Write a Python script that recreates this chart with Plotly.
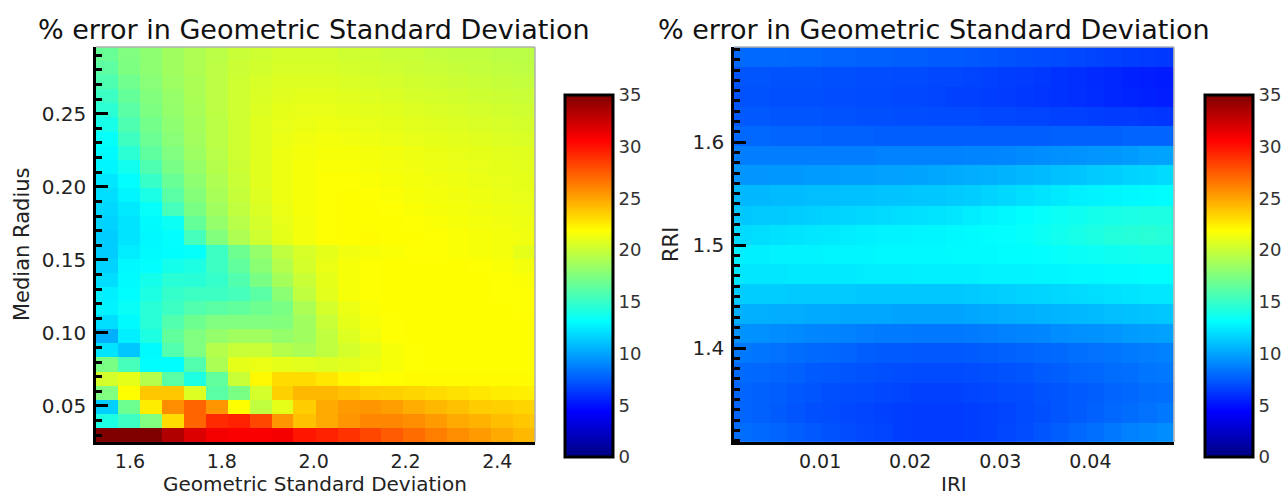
import plotly.graph_objects as go

# ---------------- data ----------------
TITLE = "% error in Geometric Standard Deviation"

# Left panel: x = Geometric Standard Deviation (cell centres), y = Median Radius (cell centres)
gsd = [1.550, 1.598, 1.646, 1.693, 1.741, 1.789, 1.837, 1.885, 1.932, 1.980,
       2.028, 2.076, 2.124, 2.171, 2.219, 2.267, 2.315, 2.363, 2.410, 2.458]
median_radius = [0.0301, 0.0398, 0.0494, 0.0591, 0.0687, 0.0784, 0.0881, 0.0977,
                 0.1074, 0.1170, 0.1267, 0.1364, 0.1460, 0.1557, 0.1653, 0.1750,
                 0.1847, 0.1943, 0.2040, 0.2136, 0.2233, 0.2330, 0.2426, 0.2523,
                 0.2619, 0.2716, 0.2813, 0.2909]

# rows listed from TOP (largest radius) to BOTTOM
err_gsd_top_down = [
    [16.7, 17.5, 18.0, 18.6, 19.1, 19.5, 20.0, 20.2, 20.4, 20.4, 20.4, 20.2, 20.2, 20.0, 20.0, 19.8, 19.7, 19.7, 19.5, 19.5],
    [16.3, 17.4, 18.0, 18.6, 19.1, 19.6, 20.1, 20.3, 20.5, 20.5, 20.5, 20.4, 20.3, 20.2, 20.1, 20.0, 19.9, 19.8, 19.7, 19.6],
    [15.8, 17.0, 17.8, 18.5, 19.0, 19.6, 20.2, 20.5, 20.7, 20.7, 20.7, 20.6, 20.5, 20.4, 20.3, 20.2, 20.1, 20.0, 19.9, 19.8],
    [15.2, 16.6, 17.6, 18.3, 19.0, 19.6, 20.2, 20.6, 20.8, 20.9, 20.9, 20.8, 20.7, 20.6, 20.5, 20.4, 20.3, 20.2, 20.1, 20.0],
    [14.6, 16.2, 17.4, 18.2, 18.9, 19.6, 20.2, 20.7, 21.0, 21.1, 21.1, 21.0, 20.9, 20.8, 20.7, 20.6, 20.5, 20.4, 20.3, 20.2],
    [13.9, 15.8, 17.1, 18.0, 18.8, 19.5, 20.2, 20.8, 21.1, 21.2, 21.3, 21.2, 21.1, 21.0, 20.9, 20.8, 20.7, 20.6, 20.5, 20.4],
    [13.3, 15.3, 16.8, 17.8, 18.7, 19.5, 20.2, 20.8, 21.2, 21.4, 21.5, 21.4, 21.3, 21.2, 21.1, 21.0, 20.9, 20.8, 20.7, 20.6],
    [13.0, 14.6, 16.4, 17.5, 18.5, 19.4, 20.2, 20.8, 21.3, 21.5, 21.6, 21.6, 21.5, 21.4, 21.3, 21.2, 21.1, 21.0, 20.9, 20.8],
    [12.8, 13.7, 15.8, 17.2, 18.3, 19.3, 20.1, 20.8, 21.3, 21.6, 21.7, 21.7, 21.6, 21.5, 21.4, 21.3, 21.2, 21.1, 21.0, 20.9],
    [12.3, 13.2, 15.0, 16.7, 18.0, 19.1, 20.0, 20.8, 21.3, 21.6, 21.8, 21.8, 21.7, 21.6, 21.5, 21.4, 21.3, 21.2, 21.1, 21.0],
    [12.0, 12.8, 14.0, 16.2, 17.7, 18.9, 19.9, 20.7, 21.3, 21.6, 21.8, 21.9, 21.8, 21.7, 21.6, 21.5, 21.4, 21.3, 21.2, 21.1],
    [11.8, 12.4, 13.3, 15.5, 17.3, 18.6, 19.7, 20.6, 21.2, 21.6, 21.8, 21.9, 21.9, 21.8, 21.7, 21.6, 21.5, 21.4, 21.3, 21.2],
    [11.6, 12.2, 13.0, 13.5, 16.6, 18.2, 19.4, 20.4, 21.1, 21.5, 21.8, 21.9, 21.9, 21.9, 21.8, 21.7, 21.6, 21.5, 21.4, 21.3],
    [11.4, 12.2, 12.9, 13.2, 15.5, 17.6, 19.1, 20.2, 21.0, 21.5, 21.8, 21.9, 22.0, 21.9, 21.9, 21.8, 21.7, 21.6, 21.5, 21.4],
    [11.4, 12.5, 13.0, 13.1, 13.3, 15.2, 16.9, 18.2, 19.7, 20.5, 21.0, 21.4, 21.6, 21.7, 21.8, 21.8, 21.7, 21.6, 21.5, 21.0],
    [11.6, 12.9, 13.2, 13.8, 14.1, 15.2, 16.5, 17.9, 19.3, 20.4, 21.2, 21.6, 21.8, 21.9, 21.9, 21.9, 21.9, 21.8, 21.7, 21.5],
    [12.0, 13.0, 13.8, 14.5, 14.5, 14.9, 15.9, 17.3, 18.8, 20.0, 21.0, 21.6, 21.8, 21.9, 21.9, 21.9, 21.9, 21.9, 21.8, 21.7],
    [12.6, 13.1, 14.1, 14.9, 15.2, 15.2, 15.5, 16.2, 17.9, 19.7, 20.9, 21.6, 21.8, 21.9, 21.9, 21.9, 21.9, 21.9, 21.8, 21.8],
    [12.7, 13.4, 14.5, 15.2, 15.9, 16.2, 16.5, 16.9, 17.3, 19.0, 20.4, 21.2, 21.7, 21.9, 21.9, 21.9, 21.9, 21.9, 21.9, 21.8],
    [12.0, 13.0, 14.5, 15.9, 16.9, 17.5, 17.5, 17.5, 17.6, 18.6, 20.0, 21.0, 21.6, 21.8, 21.9, 21.9, 21.9, 21.9, 21.9, 21.9],
    [10.4, 12.6, 14.1, 16.5, 17.5, 18.2, 18.6, 18.6, 18.2, 18.6, 19.7, 20.7, 21.4, 21.8, 21.9, 21.9, 21.9, 21.9, 21.9, 21.9],
    [12.2, 11.2, 13.0, 15.9, 17.5, 19.3, 20.0, 20.0, 19.3, 19.0, 19.7, 20.4, 21.0, 21.6, 21.8, 21.9, 21.9, 21.9, 21.9, 21.9],
    [17.3, 15.5, 13.1, 13.1, 15.9, 19.0, 21.0, 21.2, 21.0, 20.9, 20.7, 20.9, 21.2, 21.6, 21.8, 21.9, 21.9, 21.9, 21.9, 21.9],
    [20.4, 21.0, 19.3, 16.2, 14.1, 16.5, 20.0, 22.1, 23.1, 23.1, 22.7, 22.2, 21.8, 21.9, 22.0, 22.0, 22.0, 22.0, 22.0, 22.0],
    [17.5, 21.9, 23.8, 23.8, 20.7, 16.2, 17.3, 20.4, 23.5, 24.3, 24.3, 24.0, 23.6, 23.5, 23.3, 23.1, 22.9, 22.7, 22.5, 22.4],
    [11.5, 16.9, 22.5, 25.8, 27.2, 25.5, 21.9, 19.7, 21.0, 23.6, 24.8, 25.3, 25.5, 25.2, 24.7, 24.3, 24.0, 23.6, 23.5, 23.3],
    [14.1, 15.2, 17.5, 23.1, 27.2, 29.2, 29.5, 28.2, 25.5, 24.0, 24.8, 25.5, 26.0, 26.0, 25.8, 25.3, 24.8, 24.5, 24.1, 23.8],
    [35.0, 35.0, 35.0, 33.3, 31.8, 31.0, 30.8, 30.8, 31.0, 29.9, 29.5, 28.9, 28.2, 27.5, 26.9, 26.3, 25.8, 25.3, 24.8, 24.3],
]

# Right panel: x = IRI, y = RRI (cell centres)
iri = [0.0014, 0.0034, 0.0053, 0.0073, 0.0092, 0.0112, 0.0131, 0.0151, 0.0170, 0.0190,
       0.0210, 0.0229, 0.0249, 0.0268, 0.0288, 0.0307, 0.0327, 0.0346, 0.0366, 0.0386,
       0.0405, 0.0425, 0.0444, 0.0464, 0.0483]
rri = [1.318, 1.337, 1.356, 1.376, 1.395, 1.414, 1.433, 1.452, 1.472, 1.491,
       1.510, 1.529, 1.548, 1.568, 1.587, 1.606, 1.625, 1.644, 1.664, 1.683]

# rows listed from TOP (largest RRI) to BOTTOM
err_ri_top_down = [
    [8.0, 8.0, 8.0, 7.9, 7.9, 7.8, 7.8, 7.7, 7.7, 7.6, 7.6, 7.5, 7.5, 7.4, 7.3, 7.2, 7.1, 7.0, 6.9, 6.8, 6.7, 6.6, 6.5, 6.4, 6.3],
    [7.3, 7.3, 7.2, 7.2, 7.2, 7.1, 7.1, 7.0, 7.0, 6.9, 6.9, 6.8, 6.8, 6.7, 6.6, 6.5, 6.4, 6.3, 6.1, 6.0, 5.8, 5.7, 5.5, 5.4, 5.3],
    [7.2, 7.2, 7.1, 7.1, 7.1, 7.0, 7.0, 6.9, 6.9, 6.8, 6.8, 6.7, 6.6, 6.6, 6.5, 6.4, 6.3, 6.2, 6.1, 6.0, 5.9, 5.7, 5.6, 5.5, 5.4],
    [7.4, 7.4, 7.3, 7.3, 7.3, 7.2, 7.2, 7.1, 7.1, 7.0, 7.0, 6.9, 6.9, 6.9, 6.8, 6.8, 6.7, 6.7, 6.6, 6.6, 6.5, 6.4, 6.4, 6.3, 6.2],
    [7.9, 7.9, 7.8, 7.8, 7.8, 7.7, 7.7, 7.7, 7.6, 7.6, 7.6, 7.6, 7.6, 7.6, 7.6, 7.6, 7.6, 7.6, 7.7, 7.7, 7.7, 7.7, 7.8, 7.8, 7.8],
    [8.7, 8.7, 8.7, 8.7, 8.7, 8.7, 8.7, 8.7, 8.8, 8.8, 8.8, 8.8, 8.8, 8.9, 8.9, 9.0, 9.1, 9.2, 9.3, 9.4, 9.5, 9.6, 9.7, 9.9, 10.0],
    [9.5, 9.5, 9.6, 9.6, 9.7, 9.7, 9.8, 9.8, 9.9, 9.9, 10.0, 10.1, 10.2, 10.3, 10.4, 10.5, 10.7, 10.8, 11.0, 11.1, 11.3, 11.4, 11.6, 11.7, 11.9],
    [10.7, 10.7, 10.8, 10.8, 10.9, 10.9, 11.0, 11.0, 11.1, 11.1, 11.2, 11.2, 11.3, 11.4, 11.6, 11.8, 12.0, 12.2, 12.4, 12.6, 12.7, 12.8, 12.9, 13.0, 13.1],
    [11.2, 11.3, 11.3, 11.4, 11.5, 11.6, 11.7, 11.8, 11.9, 12.0, 12.1, 12.2, 12.3, 12.5, 12.7, 12.9, 13.1, 13.3, 13.5, 13.6, 13.8, 13.9, 14.0, 14.1, 14.1],
    [11.9, 12.0, 12.1, 12.2, 12.3, 12.4, 12.5, 12.6, 12.7, 12.7, 12.8, 12.8, 12.9, 13.0, 13.1, 13.2, 13.3, 13.5, 13.7, 13.9, 14.1, 14.3, 14.4, 14.5, 14.4],
    [12.6, 12.6, 12.7, 12.7, 12.7, 12.8, 12.8, 12.8, 12.9, 12.9, 12.9, 12.9, 13.0, 13.0, 13.0, 13.1, 13.1, 13.2, 13.3, 13.4, 13.5, 13.6, 13.7, 13.8, 13.8],
    [12.3, 12.3, 12.3, 12.4, 12.4, 12.4, 12.4, 12.5, 12.5, 12.5, 12.6, 12.6, 12.6, 12.6, 12.7, 12.7, 12.7, 12.8, 12.8, 12.9, 12.9, 13.0, 13.0, 13.1, 13.1],
    [11.4, 11.4, 11.4, 11.3, 11.3, 11.3, 11.3, 11.2, 11.2, 11.2, 11.2, 11.2, 11.2, 11.3, 11.4, 11.5, 11.6, 11.7, 11.8, 11.9, 12.0, 12.1, 12.2, 12.3, 12.3],
    [10.4, 10.4, 10.3, 10.3, 10.2, 10.2, 10.1, 10.1, 10.1, 10.0, 10.0, 10.0, 10.0, 10.1, 10.2, 10.3, 10.4, 10.5, 10.6, 10.7, 10.8, 10.9, 11.0, 11.1, 11.2],
    [9.4, 9.3, 9.2, 9.1, 9.0, 8.9, 8.8, 8.7, 8.6, 8.6, 8.5, 8.5, 8.5, 8.6, 8.7, 8.8, 8.9, 9.0, 9.2, 9.3, 9.4, 9.5, 9.7, 9.8, 9.9],
    [8.5, 8.4, 8.3, 8.1, 8.0, 7.9, 7.8, 7.6, 7.5, 7.5, 7.4, 7.4, 7.4, 7.5, 7.6, 7.7, 7.8, 7.9, 8.0, 8.2, 8.3, 8.4, 8.6, 8.7, 8.8],
    [8.0, 7.9, 7.8, 7.7, 7.5, 7.4, 7.3, 7.2, 7.1, 7.0, 6.9, 6.9, 6.9, 7.0, 7.1, 7.2, 7.3, 7.5, 7.6, 7.8, 7.9, 8.1, 8.2, 8.4, 8.5],
    [7.8, 7.7, 7.6, 7.4, 7.3, 7.1, 7.0, 6.9, 6.8, 6.7, 6.6, 6.6, 6.6, 6.7, 6.8, 6.9, 7.0, 7.2, 7.3, 7.5, 7.6, 7.8, 7.9, 8.1, 8.2],
    [7.8, 7.7, 7.5, 7.3, 7.1, 7.0, 6.8, 6.7, 6.6, 6.5, 6.4, 6.4, 6.4, 6.5, 6.6, 6.7, 6.9, 7.1, 7.3, 7.5, 7.7, 7.9, 8.1, 8.3, 8.5],
    [8.1, 8.0, 7.8, 7.6, 7.4, 7.2, 7.0, 6.8, 6.7, 6.5, 6.4, 6.4, 6.4, 6.5, 6.6, 6.8, 7.0, 7.3, 7.6, 7.9, 8.2, 8.5, 8.8, 9.0, 9.2],
]

CB_MIN, CB_MAX = 0, 35
CB_TICKS = [0, 5, 10, 15, 20, 25, 30, 35]

# ---------------- figure ----------------
W, H = 1282, 496
FONT = "DejaVu Sans"
TXT = "#222222"

jet = [[0.0, "rgb(0,0,128)"], [0.125, "rgb(0,0,255)"], [0.375, "rgb(0,255,255)"],
       [0.625, "rgb(255,255,0)"], [0.875, "rgb(255,0,0)"], [1.0, "rgb(128,0,0)"]]


def px_x(p):
    return p / W


def px_y(p):
    return (H - p) / H


PLOT_TOP, PLOT_BOT = 47, 442
L_X0, L_X1 = 96, 535
R_X0, R_X1 = 734, 1174
CB_TOP, CB_BOT = 95, 457
CB_W = 48
CBL_X = 565
CBR_X = 1205


def colorbar(x_px):
    return dict(
        x=px_x(x_px), xanchor="left", xpad=0, ypad=0,
        y=px_y(CB_BOT), yanchor="bottom",
        thicknessmode="pixels", thickness=CB_W,
        lenmode="pixels", len=CB_BOT - CB_TOP,
        outlinewidth=3, outlinecolor="black",
        tickvals=CB_TICKS, ticks="", ticklabelposition="outside",
        tickfont=dict(family=FONT, size=18, color="#333333"),
    )


fig = go.Figure()
fig.add_trace(go.Heatmap(
    x=gsd, y=median_radius, z=err_gsd_top_down[::-1],
    colorscale=jet, zmin=CB_MIN, zmax=CB_MAX, zsmooth=False,
    colorbar=colorbar(CBL_X), xaxis="x", yaxis="y",
))
fig.add_trace(go.Heatmap(
    x=iri, y=rri, z=err_ri_top_down[::-1],
    colorscale=jet, zmin=CB_MIN, zmax=CB_MAX, zsmooth=False,
    colorbar=colorbar(CBR_X), xaxis="x2", yaxis="y2",
))

ytickfont = dict(family=FONT, size=20, color=TXT)
xtickfont = dict(family=FONT, size=19, color=TXT)
ydom = [px_y(PLOT_BOT), px_y(PLOT_TOP)]

common_y = dict(showline=True, linecolor="black", linewidth=2.5, ticks="inside",
                ticklen=12, tickwidth=2.5, tickcolor="black", showgrid=False,
                zeroline=False, tickfont=ytickfont, domain=ydom, ticklabelstandoff=3)
common_x = dict(showline=True, linecolor="black", linewidth=2.5, ticks="",
                showgrid=False, zeroline=False, tickfont=xtickfont, ticklabelstandoff=0)

fig.update_layout(
    width=W, height=H,
    margin=dict(l=0, r=0, t=0, b=0, autoexpand=False),
    paper_bgcolor="white", plot_bgcolor="white",
    showlegend=False,
    font=dict(family=FONT, color=TXT),
    xaxis=dict(domain=[px_x(L_X0), px_x(L_X1)], range=[1.526, 2.482],
               tick0=0, dtick=0.2, tickformat=".1f", anchor="y", **common_x),
    yaxis=dict(range=[0.0253, 0.2957], tick0=0, dtick=0.05, tickformat=".2f",
               anchor="x",
               minor=dict(ticks="inside", ticklen=6, tickwidth=2.5, tickcolor="black",
                          dtick=0.01, tick0=0, showgrid=False),
               **common_y),
    xaxis2=dict(domain=[px_x(R_X0), px_x(R_X1)], range=[0.00044, 0.04928],
                tick0=0, dtick=0.01, tickformat=".2f", anchor="y2", **common_x),
    yaxis2=dict(range=[1.3087, 1.6924], tick0=0, dtick=0.1, tickformat=".1f",
                anchor="x2",
                minor=dict(ticks="inside", ticklen=6, tickwidth=2.5, tickcolor="black",
                           dtick=0.01, tick0=0, showgrid=False),
                **common_y),
)

shapes = []
# light top / right frame of each plot
for xr, yr in (("x domain", "y domain"), ("x2 domain", "y2 domain")):
    shapes.append(dict(type="line", xref=xr, yref=yr, x0=0, x1=1, y0=1, y1=1,
                       line=dict(color="#b0b0b0", width=1.5), layer="above"))
    shapes.append(dict(type="line", xref=xr, yref=yr, x0=1, x1=1, y0=0, y1=1,
                       line=dict(color="#b0b0b0", width=1.5), layer="above"))
# black band separators on the colour bars
for cbx in (CBL_X, CBR_X):
    for v in CB_TICKS[1:-1]:
        yp = CB_BOT - (v - CB_MIN) / (CB_MAX - CB_MIN) * (CB_BOT - CB_TOP)
        shapes.append(dict(type="line", xref="paper", yref="paper",
                           x0=px_x(cbx), x1=px_x(cbx + CB_W), y0=px_y(yp), y1=px_y(yp),
                           line=dict(color="black", width=2.5), layer="above"))
fig.update_layout(shapes=shapes)

ann = []
for cx, text in ((314, TITLE), (934, TITLE)):
    ann.append(dict(text=text, x=px_x(cx), y=px_y(29), xref="paper", yref="paper",
                    xanchor="center", yanchor="middle", showarrow=False,
                    font=dict(family=FONT, size=27, color="#111111")))
axis_titles = [
    (315, 484, "Geometric Standard Deviation", 0, 20),
    (954, 484, "IRI", 0, 20),
    (22, 245, "Median Radius", -90, 21),
    (671, 245, "RRI", -90, 21),
]
for cx, cy, text, ang, fs in axis_titles:
    ann.append(dict(text=text, x=px_x(cx), y=px_y(cy), xref="paper", yref="paper",
                    xanchor="center", yanchor="middle", showarrow=False, textangle=ang,
                    font=dict(family=FONT, size=fs, color=TXT)))
fig.update_layout(annotations=ann)

fig.write_html("out.html")
